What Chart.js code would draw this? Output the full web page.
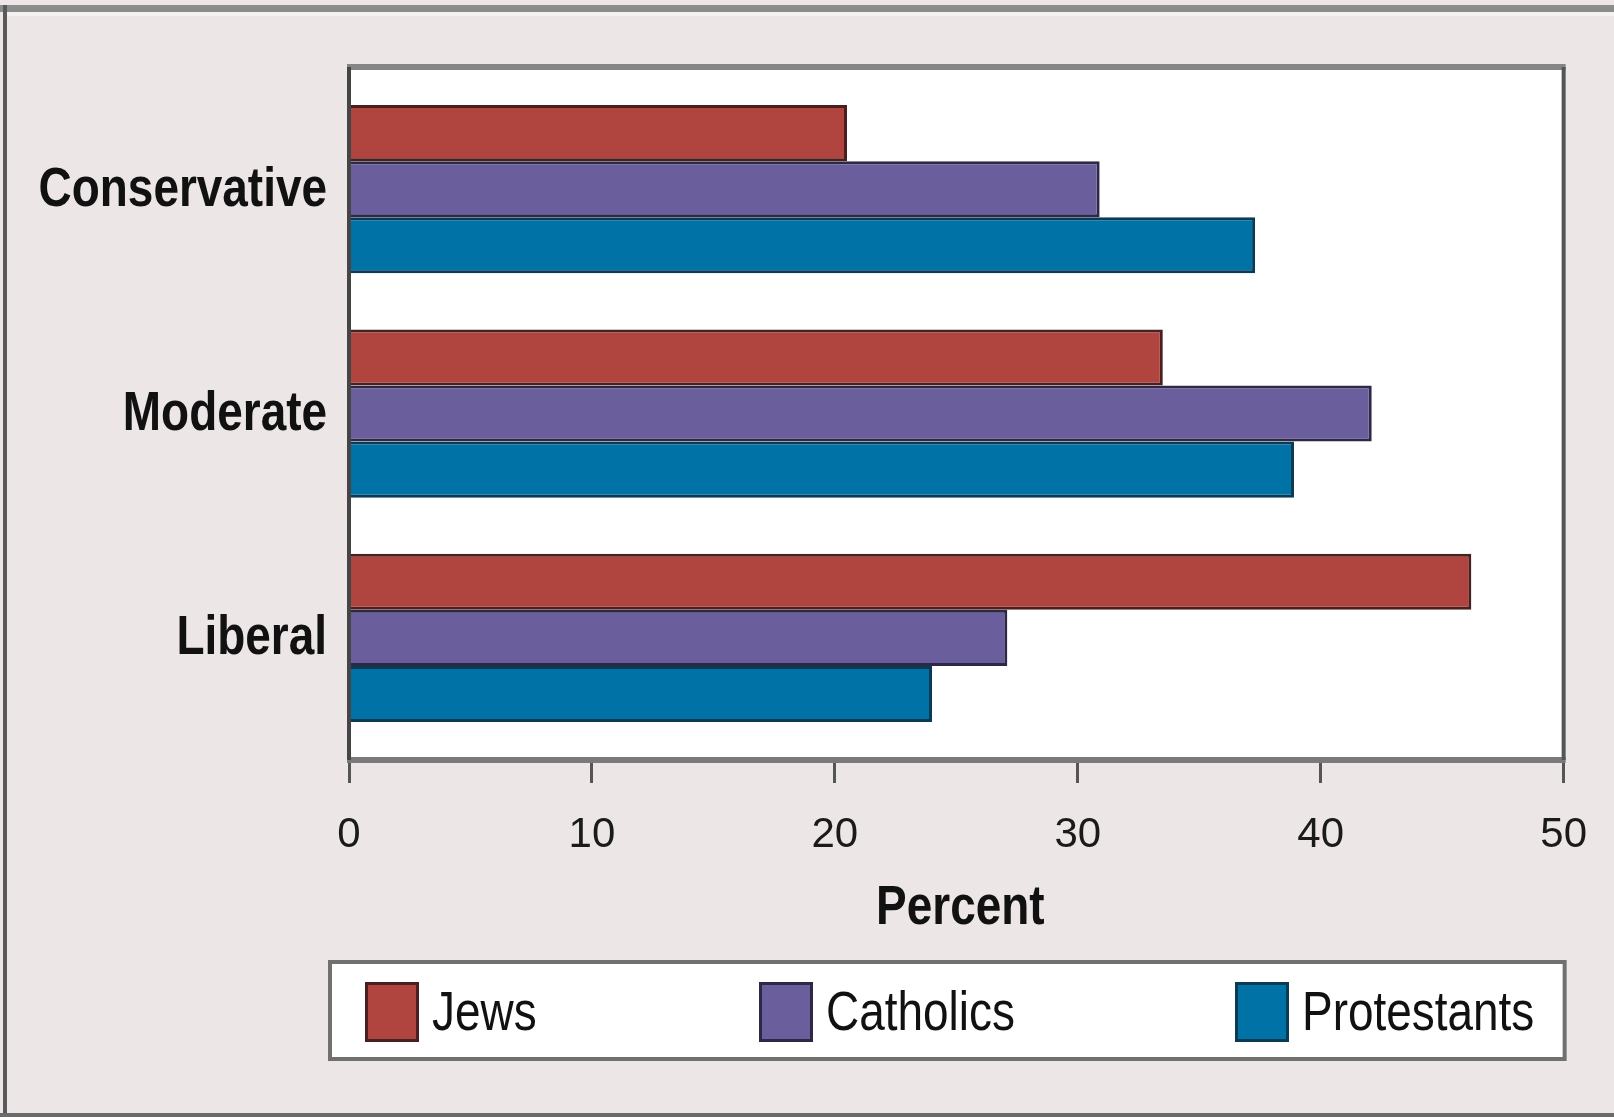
<!DOCTYPE html>
<html>
<head>
<meta charset="utf-8">
<script src="https://cdn.jsdelivr.net/npm/chart.js@4/dist/chart.umd.min.js"></script>
<style>
  html, body { margin: 0; padding: 0; background: #ece6e6; }
  canvas { display: block; }
</style>
</head>
<body>
<canvas id="religionChart" width="1614" height="1117"></canvas>
<script>
// values (percent)
const categories = ["Conservative", "Moderate", "Liberal"];
const seriesNames = ["Jews", "Catholics", "Protestants"];
const jews = [20.5, 33.5, 46.2];
const catholics = [30.9, 42.1, 27.1];
const protestants = [37.3, 38.9, 24.0];
const xTicks = [0, 10, 20, 30, 40, 50];
const xTitle = "Percent";

const fills = ["#b0443f", "#6a5f9c", "#0072a6"];
const borders = ["#4a1f1f", "#2d2846", "#0b3a55"];

const sans = "'Liberation Sans', Arial, Helvetica, sans-serif";
const squeeze = 0.82; // the original uses a narrow Helvetica

function narrowText(c, text, x, y, align) {
  c.save();
  c.translate(x, y);
  c.scale(squeeze, 1);
  c.textAlign = align;
  c.fillText(text, 0, 0);
  c.restore();
}

// page background + outer frame
const backdrop = {
  id: "backdrop",
  beforeDraw(chart) {
    const c = chart.ctx;
    const w = chart.width, h = chart.height;
    c.save();
    c.fillStyle = "#ece6e6";
    c.fillRect(0, 0, w, h);
    c.fillStyle = "#8c8c8c";
    c.fillRect(0, 5, w, 7);
    c.fillStyle = "#f4f1f1";
    c.fillRect(7, 12, w, 4);
    c.fillStyle = "#595959";
    c.fillRect(3, 5, 4, h - 9);
    c.fillStyle = "#6a6a6a";
    c.fillRect(0, h - 4, w, 4);
    c.restore();
  },
};

// white plot box with its frame
const plotBox = {
  id: "plotBox",
  beforeDatasetsDraw(chart) {
    const a = chart.chartArea;
    const c = chart.ctx;
    c.save();
    c.fillStyle = "#ffffff";
    c.fillRect(a.left, a.top - 10, a.right - a.left, a.bottom - a.top + 20);
    c.restore();
  },
  afterDatasetsDraw(chart) {
    const a = chart.chartArea;
    const c = chart.ctx;
    c.save();
    c.fillStyle = "#858585";
    c.fillRect(a.left - 2, a.top - 13, a.right - a.left + 4, 6);
    c.fillStyle = "#7a7a7a";
    c.fillRect(a.left - 2, a.bottom + 7, a.right - a.left + 4, 6);
    c.fillStyle = "#454545";
    c.fillRect(a.left - 2, a.top - 10, 4, a.bottom - a.top + 20);
    c.fillStyle = "#555555";
    c.fillRect(a.right - 2, a.top - 10, 4, a.bottom - a.top + 20);
    c.restore();
  },
};

// category names and axis title, in narrow bold type
const narrowLabels = {
  id: "narrowLabels",
  afterDraw(chart) {
    const a = chart.chartArea;
    const ys = chart.scales.y;
    const c = chart.ctx;
    c.save();
    c.fillStyle = "#111111";
    c.font = "bold 56px " + sans;
    c.textBaseline = "middle";
    chart.data.labels.forEach((label, i) => {
      narrowText(c, label, a.left - 22, ys.getPixelForValue(i) + 1, "right");
    });
    narrowText(c, xTitle, (a.left + a.right) / 2 + 4, a.bottom + 159, "center");
    c.restore();
  },
};

// boxed legend under the axis title
const legendX = [35, 429, 905];
const boxedLegend = {
  id: "boxedLegend",
  afterDraw(chart) {
    const a = chart.chartArea;
    const xs = chart.scales.x;
    const c = chart.ctx;
    const left = a.left - 19;
    const right = a.right + 1;
    const top = xs.bottom + 24;
    const height = 97;
    c.save();
    c.fillStyle = "#ffffff";
    c.fillRect(left, top, right - left, height);
    c.strokeStyle = "#707070";
    c.lineWidth = 4;
    c.strokeRect(left, top, right - left, height);
    c.font = "56px " + sans;
    c.textBaseline = "middle";
    chart.data.datasets.forEach((ds, i) => {
      const x = left + legendX[i];
      c.fillStyle = ds.backgroundColor;
      c.fillRect(x, top + 20, 54, 60);
      c.strokeStyle = ds.borderColor;
      c.lineWidth = 3;
      c.strokeRect(x + 1.5, top + 21.5, 51, 57);
      c.fillStyle = "#111111";
      narrowText(c, ds.label, x + 67, top + 53, "left");
    });
    c.restore();
  },
};

const ctx = document.getElementById("religionChart").getContext("2d");

const seriesValues = [jews, catholics, protestants];

let chart = new Chart(ctx, {
  type: "bar",
  data: {
    labels: categories,
    datasets: seriesNames.map((name, i) => ({
      label: name,
      data: seriesValues[i],
      backgroundColor: fills[i],
      borderColor: borders[i],
      borderWidth: 3,
      categoryPercentage: 0.75,
      barPercentage: 1.0,
    })),
  },
  options: {
    indexAxis: "y",
    responsive: false,
    animation: false,
    layout: { padding: { top: 77, right: 49, bottom: 179, left: 0 } },
    plugins: {
      legend: { display: false },
      tooltip: { enabled: false },
    },
    scales: {
      x: {
        type: "linear",
        min: xTicks[0],
        max: xTicks[xTicks.length - 1],
        afterBuildTicks: (scale) => {
          scale.ticks = xTicks.map((v) => ({ value: v }));
        },
        ticks: {
          font: { family: sans, size: 42 },
          color: "#1a1a1a",
          padding: 27,
          maxRotation: 0,
        },
        grid: {
          drawOnChartArea: false,
          tickLength: 33,
          color: "#555555",
          lineWidth: 3,
        },
        border: { display: false },
        afterFit: (scale) => {
          scale.height = 188;
        },
      },
      y: {
        ticks: { display: false },
        grid: { display: false },
        border: { display: false },
        afterFit: (scale) => {
          scale.width = 349;
        },
      },
    },
  },
  plugins: [backdrop, plotBox, narrowLabels, boxedLegend],
});
</script>
</body>
</html>
